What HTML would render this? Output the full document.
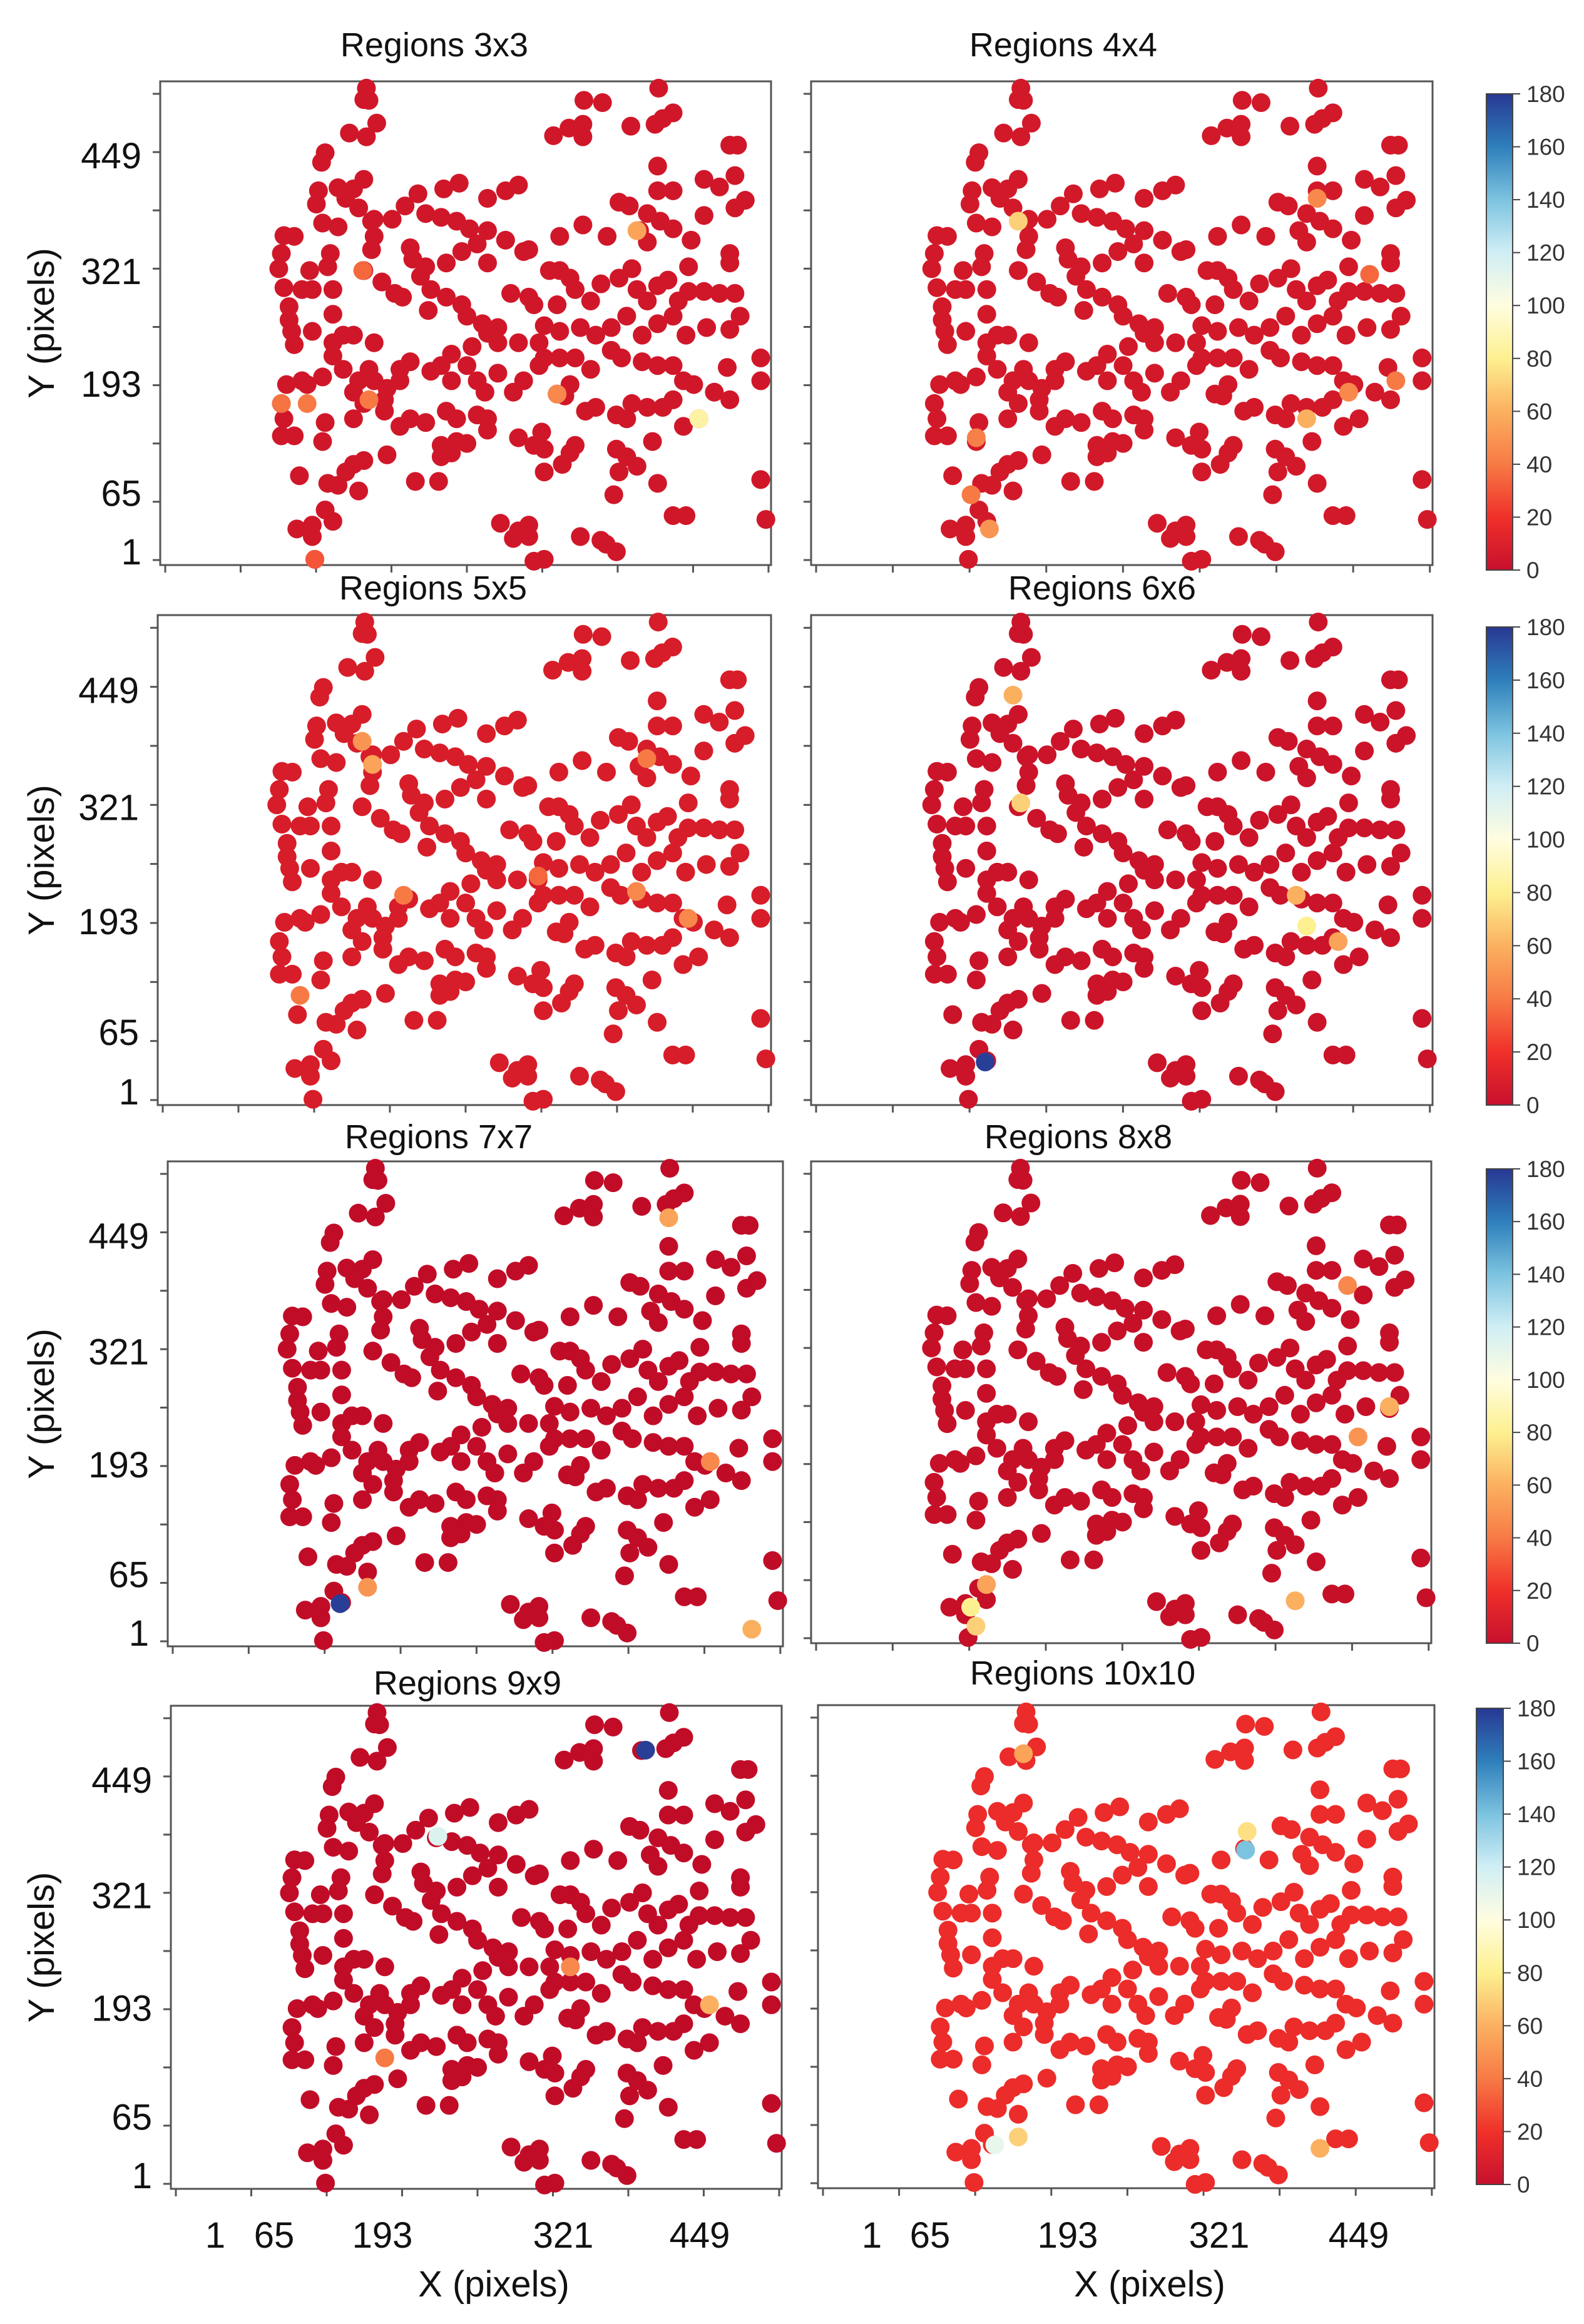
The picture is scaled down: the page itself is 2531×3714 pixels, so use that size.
<!DOCTYPE html>
<html><head><meta charset="utf-8">
<style>
html,body{margin:0;padding:0;background:#fff;}
svg{display:block;font-family:"Liberation Sans",sans-serif;}
</style></head>
<body>
<svg id="chart" width="2531" height="3714" viewBox="0 0 2531 3714">
<defs>
<linearGradient id="cmap" x1="0" y1="1" x2="0" y2="0">
<stop offset="0" stop-color="#c8102e"/><stop offset="0.111" stop-color="#f0302a"/>
<stop offset="0.222" stop-color="#f77a45"/><stop offset="0.333" stop-color="#fbb060"/>
<stop offset="0.444" stop-color="#fdf090"/><stop offset="0.556" stop-color="#fffde0"/>
<stop offset="0.667" stop-color="#d0eef5"/><stop offset="0.778" stop-color="#7cc3e0"/>
<stop offset="0.889" stop-color="#2e7fbb"/><stop offset="1" stop-color="#283893"/>
</linearGradient>
</defs>
</svg>
<script>
const xs = [705,700,710,725,672,705,1127,1163,1272,1300,1280,1265,1098,1068,1125,1125,1218,1410,1425,625,618,700,680,650,612,608,665,690,720,755,620,650,805,855,885,940,975,1000,780,820,850,880,905,940,975,1010,1020,1270,1360,1390,1420,1440,1420,1195,1215,1270,1300,1250,1275,1235,1250,1300,1125,1172,1080,1360,1335,1410,1410,
545,565,540,535,595,545,580,600,555,555,560,565,635,630,640,640,640,600,660,680,715,720,715,700,735,760,775,790,795,820,810,830,860,890,920,940,825,860,890,900,930,960,985,1020,1030,1060,1080,1100,1075,1110,1140,1160,1195,1220,1230,1250,1270,1290,1310,1330,1330,1360,1390,1420,1430,1410,1365,1325,1300,1270,1240,1210,1180,1150,1120,1080,1050,1040,1000,960,940,910,870,850,830,790,770,770,745,740,720,710,720,690,680,660,640,620,590,580,550,540,545,540,565,625,620,680,700,740,770,790,820,860,880,920,940,940,880,850,850,870,900,870,900,920,935,960,990,1010,1040,1050,1080,1110,1140,1100,1090,1075,1130,1150,1190,1210,1220,1250,1280,1300,1320,1340,1300,1270,1240,1200,1180,1350,1320,1380,1410,1405,1470,1470,1000,1030,1050,1045,1100,1110,1085,1190,1210,1195,1230,1260,1270,1185,1050,1170,1190,1160,1120,1050,1030,965,1000,1020,990,1020,1300,1325,1470,1480,
575,630,650,665,680,700,690,745,800,845,570,600,600,625,640,605];
const ys = [230,260,262,322,348,358,262,268,230,295,310,325,335,355,325,358,330,380,380,400,425,470,495,492,500,535,520,545,575,575,585,595,508,495,480,520,500,485,540,560,570,580,600,605,630,660,655,435,470,490,460,525,545,530,540,500,500,560,580,605,635,600,590,620,620,565,630,665,690,
618,620,665,705,710,755,760,760,805,840,870,905,665,700,760,825,900,870,880,880,580,620,655,710,740,770,780,650,680,700,725,760,690,660,640,690,815,780,800,830,850,860,770,780,800,710,710,730,800,760,790,745,730,705,760,790,750,735,790,700,765,765,770,770,830,865,860,880,830,850,880,830,860,880,860,870,855,900,900,900,875,910,930,960,975,950,970,1000,1020,1050,900,970,1000,1000,1030,970,935,990,1010,1000,1010,1060,1100,1145,1145,1110,1160,1100,1060,1080,1120,1100,1110,1080,1100,1090,1100,1130,1160,1170,1200,1190,1165,1000,960,1000,1030,980,1030,1000,960,940,940,940,970,1010,1040,1035,1080,1070,1090,1100,1060,1070,1070,1050,1000,1010,960,960,950,940,920,1100,1120,1030,1050,965,940,1000,1150,1170,1180,1135,1190,1170,1220,1180,1200,1240,1225,1160,1270,1300,1240,1430,1450,1420,1410,1470,1475,1375,1395,1380,1415,1410,1355,1355,1260,1365,
1250,1270,1275,1240,1220,1210,1290,1195,1265,1265,1390,1380,1410,1340,1370,1470];
const panelTitles = ["Regions 3x3","Regions 4x4","Regions 5x5","Regions 6x6","Regions 7x7","Regions 8x8","Regions 9x9","Regions 10x10"];
const baseValues = [7,8,10,5,1,3,1,18];
const specialX = [[1230,1350,1075,710,540,590,698,605],[1270,700,1250,610,620,1330,1420,645,1370],[700,720,1230,1250,1330,580,1040,780],[637,690,1250,705,1230,1310],[637,690,1270,1430,1350],[1230,610,620,640,1350,1410,1330],[1226,823,1350,720,1080],[1127,645,700,690,1130,1270]];
const specialY = [[605,1100,1035,1050,1060,1060,710,1470],[520,580,1100,1300,1150,1030,1000,1390,720],[540,600,930,585,1000,1200,890,940],[1373,420,1020,700,940,1060],[1373,1330,360,1440,1000],[1373,1390,1440,1330,940,860,540],[329,556,1000,1140,900],[594,1371,340,1350,545,1380]];
const specialV = [[55,85,45,40,38,40,35,30],[45,70,60,40,42,45,40,50,35],[50,55,45,40,45,40,35,40],[178,60,80,70,60,55],[178,50,55,60,45],[60,80,70,55,50,60,45],[178,115,60,40,45],[140,110,55,70,75,60]];
const yTickLabels = ["449","321","193","65","1"];
const yTickFrac = [0.154,0.393,0.626,0.852,0.973];
const cbTicks = [0,20,40,60,80,100,120,140,160,180];
const xTickLabels = ["1","65","193","321","449"];

const panels = [
 {l:256,t:130,r:1232,b:903,tx:694,ty:90},
 {l:1296,t:130,r:2289,b:903,tx:1699,ty:90},
 {l:252,t:983,r:1232,b:1766,tx:692,ty:958},
 {l:1296,t:983,r:2289,b:1766,tx:1761,ty:958},
 {l:268,t:1856,r:1251,b:2631,tx:701,ty:1835},
 {l:1296,t:1856,r:2287,b:2626,tx:1723,ty:1835},
 {l:273,t:2726,r:1249,b:3498,tx:747,ty:2708},
 {l:1307,t:2725,r:2292,b:3497,tx:1730,ty:2692}
];
const cbars = [{l:2375,t:150,r:2417,b:911},{l:2375,t:1002,r:2417,b:1766},{l:2375,t:1868,r:2417,b:2626},{l:2359,t:2730,r:2402,b:3491}];

const stops=[[0,[190,10,40]],[20,[240,48,42]],[40,[247,122,69]],[60,[251,176,96]],[80,[253,240,144]],[100,[255,253,224]],[120,[208,238,245]],[140,[124,195,224]],[160,[46,127,187]],[180,[40,56,147]]];
function cmap(v){
  for(let i=0;i<stops.length-1;i++){const a=stops[i],b=stops[i+1];
    if(v<=b[0]){const f=(v-a[0])/(b[0]-a[0]);const c=a[1].map((x,k)=>Math.round(x+(b[1][k]-x)*f));return `rgb(${c})`;}}
  return 'rgb(40,56,147)';
}
const NS="http://www.w3.org/2000/svg";
const svg=document.getElementById('chart');
function mk(tag,attrs,parent){const e=document.createElementNS(NS,tag);for(const k in attrs)e.setAttribute(k,attrs[k]);(parent||svg).appendChild(e);return e;}
function xScale(p,v){return p.l+(v-305)/(1490-305)*(p.r-p.l);}
function yScale(p,v){return p.t+(v-212)/(1485-212)*(p.b-p.t);}

panels.forEach((p,pi)=>{
  const g=mk('g',{});
  
  
  const fr=mk('rect',{x:p.l,y:p.t,width:p.r-p.l,height:p.b-p.t,fill:'#fff',stroke:'#555','stroke-width':3},g);
  
  
  const ti=mk('text',{x:p.tx,y:p.ty,'text-anchor':'middle','font-size':54,fill:'#111'},g);
  ti.textContent=panelTitles[pi];
  
  
  for(let k=0;k<9;k++){
    const x=p.l+8+k*(p.r-p.l)/8.1;
    mk('line',{x1:x,y1:p.b,x2:x,y2:p.b+12,stroke:'#555','stroke-width':3},g);
    const y=p.b-8-k*(p.b-p.t)/8.3;
    mk('line',{x1:p.l-12,y1:y,x2:p.l,y2:y,stroke:'#555','stroke-width':3},g);
  }
  const pts=mk('g',{},g);
  
  
  const base=cmap(baseValues[pi]);
  xs.forEach((x,i)=>{
    const c=mk('circle',{cx:xScale(p,x),cy:yScale(p,ys[i]),r:15,fill:base},pts);
    
    
  });
  specialX[pi].forEach((x,i)=>{
    const c=mk('circle',{cx:xScale(p,x),cy:yScale(p,specialY[pi][i]),r:15,fill:cmap(specialV[pi][i])},pts);
    
    
  });
  if(pi%2===0){
    yTickLabels.forEach((lab,k)=>{
      const t=mk('text',{x:p.l-30,y:p.t+yTickFrac[k]*(p.b-p.t)+20,'text-anchor':'end','font-size':58,fill:'#111'},g);
      t.textContent=lab;
      
      
    });
    const cy=(p.t+p.b)/2;
    const yl=mk('text',{x:0,y:0,'text-anchor':'middle','font-size':58,fill:'#111',transform:`translate(86,${cy}) rotate(-90)`},g);
    yl.textContent='Y (pixels)';
    
    
  }
});
const xLabPos=[[344,438,611,900,1118],[1393,1486,1706,1948,2171]];
[0,1].forEach(s=>{
  xTickLabels.forEach((lab,k)=>{
    const t=mk('text',{x:xLabPos[s][k],y:3592,'text-anchor':'middle','font-size':58,fill:'#111'});
    t.textContent=lab;
    
    
  });
  const xl=mk('text',{x:s?1837:789,y:3670,'text-anchor':'middle','font-size':58,fill:'#111'});
  xl.textContent='X (pixels)';
  
  
});
cbars.forEach((c,ci)=>{
  const g=mk('g',{});
  
  
  mk('rect',{x:c.l,y:c.t,width:c.r-c.l,height:c.b-c.t,fill:'url(#cmap)',stroke:'#444','stroke-width':2},g);
  cbTicks.forEach(v=>{
    const y=c.b-v/180*(c.b-c.t);
    mk('line',{x1:c.r,y1:y,x2:c.r+12,y2:y,stroke:'#444','stroke-width':2},g);
    const t=mk('text',{x:c.r+22,y:y+13,'font-size':37,fill:'#333'},g);
    t.textContent=String(v);
    
    
  });
});
</script>
</body></html>
